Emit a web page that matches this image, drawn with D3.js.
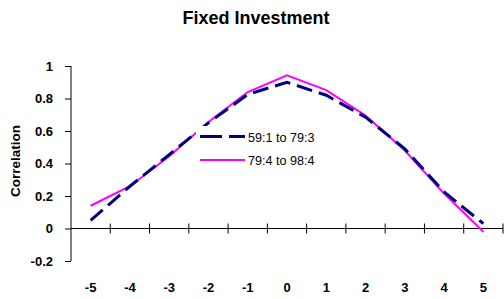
<!DOCTYPE html>
<html><head><meta charset="utf-8">
<script src="https://cdn.jsdelivr.net/npm/d3@7"></script>
<style>body{margin:0;background:#fff;} text{font-family:"Liberation Sans",Arial,sans-serif;}</style>
</head><body>
<svg id="c" width="504" height="299"></svg>
<script>
const categories = ["-5","-4","-3","-2","-1","0","1","2","3","4","5"];
const series1Name = "59:1 to 79:3";
const series1 = [0.05,0.26,0.455,0.65,0.825,0.90,0.82,0.685,0.49,0.225,0.03];
const series2Name = "79:4 to 98:4";
const series2 = [0.14,0.26,0.445,0.655,0.84,0.943,0.852,0.695,0.48,0.215,-0.02];
const yTicks = [-0.2,0,0.2,0.4,0.6,0.8,1];

const svg = d3.select("#c");
const x = d3.scaleBand().domain(categories).range([71,503]);
const y = d3.scaleLinear().domain([-0.2,1]).range([261,66]);

// title
svg.append("text").attr("x",256).attr("y",24).attr("text-anchor","middle")
  .attr("font-weight","bold").attr("font-size",18).text("Fixed Investment");

// y axis
const ya = svg.append("g").attr("transform","translate(71,0)")
  .call(d3.axisLeft(y).tickValues(yTicks).tickSize(6).tickPadding(12).tickFormat(d=>String(+d.toFixed(1))));
ya.select(".domain").attr("stroke","#000").attr("d","M0,"+y(-0.2)+"V"+y(1));
ya.selectAll("text").attr("font-size",13).attr("font-weight","bold").attr("font-family","Liberation Sans, Arial, sans-serif").attr("fill","#000");
ya.selectAll(".tick line").attr("stroke","#000").attr("x2",-6);

// x axis at y=0
const xa = svg.append("g").attr("transform","translate(0,"+y(0)+")");
xa.append("line").attr("x1",71).attr("x2",503).attr("stroke","#000");
const bounds = categories.map(c=>x(c)).concat([503]).slice(1);
xa.selectAll(".xt").data(bounds).join("line").attr("x1",d=>d).attr("x2",d=>d)
  .attr("y1",-5).attr("y2",5).attr("stroke","#000");
svg.selectAll(".xl").data(categories).join("text")
  .attr("x",d=>x(d)+x.bandwidth()/2).attr("y",292).attr("text-anchor","middle")
  .attr("font-size",13).attr("font-weight","bold").text(d=>d);

// y label
svg.append("text").attr("transform","translate(20,161) rotate(-90)").attr("text-anchor","middle")
  .attr("font-size",13.5).attr("font-weight","bold").text("Correlation");

const line = d3.line().x((d,i)=>x(categories[i])+x.bandwidth()/2).y(d=>y(d));
svg.append("path").datum(series2).attr("d",line).attr("fill","none")
  .attr("stroke","#ff00ff").attr("stroke-width",2);
svg.append("path").datum(series1).attr("d",line).attr("fill","none")
  .attr("stroke","#000080").attr("stroke-width",3).attr("stroke-dasharray","16,7");

// legend
const lg = svg.append("g");
lg.append("rect").attr("x",196).attr("y",126).attr("width",138).attr("height",44).attr("fill","#fff");
lg.append("line").attr("x1",200).attr("x2",245).attr("y1",136.5).attr("y2",136.5)
  .attr("stroke","#000080").attr("stroke-width",3).attr("stroke-dasharray","22,7");
lg.append("line").attr("x1",200).attr("x2",245).attr("y1",160).attr("y2",160)
  .attr("stroke","#ff00ff").attr("stroke-width",2);
lg.append("text").attr("x",248).attr("y",141.5).attr("font-size",12.6).text(series1Name);
lg.append("text").attr("x",248).attr("y",165).attr("font-size",12.6).text(series2Name);
</script>
</body></html>
